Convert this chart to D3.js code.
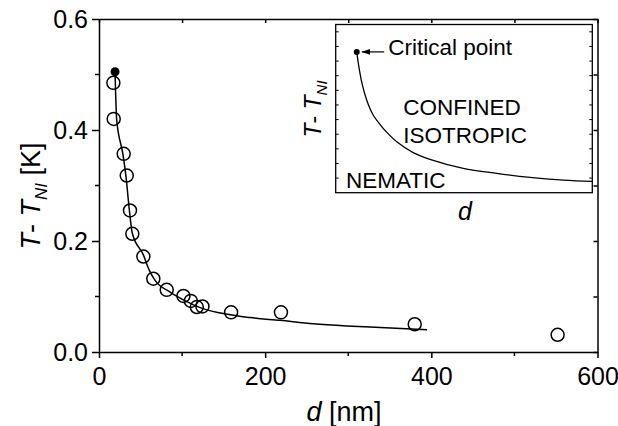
<!DOCTYPE html>
<html>
<head>
<meta charset="utf-8">
<script src="https://cdn.jsdelivr.net/npm/d3@7"></script>
<style>
  body { margin: 0; background: #fff; }
  svg { font-family: "Liberation Sans", Arial, Helvetica, sans-serif; }
  .axis path, .axis line { stroke: #000; stroke-width: 1.5; }
  .axis text { font-size: 25px; fill: #000; }
</style>
</head>
<body>
<div id="chart"></div>
<script>
// measured points (d in nm, T - T_NI in K)
var sizeD = [17.3, 17.7, 29.7, 33.4, 37.3, 40.1, 53.4, 65.4, 81.5, 101.6, 110.5, 117.7, 124.5, 159, 219, 380, 552];
var deltaT = [0.485, 0.420, 0.357, 0.318, 0.255, 0.213, 0.172, 0.132, 0.112, 0.101, 0.092, 0.081, 0.082, 0.0715, 0.0715, 0.050, 0.031];

// critical point
var critD = 19.3, critT = 0.505;

// fitted curve
var fitD = [19.3, 21.3, 28.6, 32.5, 36.5, 40.1, 53.4, 60.6, 67.5, 85.5, 101.6, 121.7, 157.8, 182, 218, 258, 298, 338.6, 394.8];
var fitT = [0.505, 0.418, 0.358, 0.316, 0.256, 0.214, 0.175, 0.147, 0.129, 0.108, 0.094, 0.080, 0.067, 0.062, 0.057, 0.051, 0.047, 0.044, 0.040];

var xTicks = [0, 200, 400, 600];
var xMinor = [100, 300, 500];
var yTicks = [0.0, 0.2, 0.4, 0.6];
var yMinor = [0.1, 0.3, 0.5];

// inset schematic curve (relative units 0..1)
var insetX = [0.082, 0.091, 0.103, 0.121, 0.145, 0.173, 0.204, 0.238, 0.302, 0.367, 0.497, 0.627, 0.757, 0.887, 1.0];
var insetY = [0.837, 0.742, 0.647, 0.550, 0.465, 0.405, 0.351, 0.303, 0.238, 0.198, 0.145, 0.115, 0.091, 0.075, 0.067];

var W = 618, H = 426;
var margin = {top: 19, left: 99},
    width = 498.5,
    height = 333;

var svg = d3.select("#chart").append("svg")
    .attr("width", W)
    .attr("height", H);

var g = svg.append("g")
    .attr("transform", "translate(" + margin.left + "," + margin.top + ")");

var x = d3.scaleLinear().domain([0, 600]).range([0, width]);
var y = d3.scaleLinear().domain([0, 0.6]).range([height, 0]);

// bottom axis
var xAxis = g.append("g")
    .attr("class", "axis")
    .attr("transform", "translate(0," + height + ")")
    .call(d3.axisBottom(x).tickValues(xTicks).tickSize(6).tickSizeOuter(0).tickPadding(9));
xAxis.selectAll(".tick text").attr("dy", "0.71em");
xAxis.selectAll(".minor")
    .data(xMinor).enter().append("line")
    .attr("x1", function(d) { return x(d); })
    .attr("x2", function(d) { return x(d); })
    .attr("y1", 0).attr("y2", 4)
    .attr("stroke", "#000").attr("stroke-width", 1.5);

// left axis
var yAxis = g.append("g")
    .attr("class", "axis")
    .call(d3.axisLeft(y).tickValues(yTicks).tickSize(7).tickSizeOuter(0).tickPadding(4)
      .tickFormat(d3.format(".1f")));
yAxis.selectAll(".minor")
    .data(yMinor).enter().append("line")
    .attr("y1", function(d) { return y(d); })
    .attr("y2", function(d) { return y(d); })
    .attr("x1", 0).attr("x2", -4)
    .attr("stroke", "#000").attr("stroke-width", 1.5);

// top axis, ticks inward
g.append("g")
    .attr("class", "axis")
    .call(d3.axisTop(x).tickValues(xTicks.concat(xMinor)).tickSize(-4).tickSizeOuter(0).tickFormat(""));

// right axis, ticks inward
g.append("g")
    .attr("class", "axis")
    .attr("transform", "translate(" + width + ",0)")
    .call(d3.axisRight(y).tickValues(yTicks.concat(yMinor)).tickSize(-4).tickSizeOuter(0).tickFormat(""));

// fit curve
var fitLine = d3.line()
    .x(function(d, i) { return x(fitD[i]); })
    .y(function(d) { return y(d); })
    .curve(d3.curveMonotoneX);

g.append("path")
    .datum(fitT)
    .attr("d", fitLine)
    .attr("fill", "none")
    .attr("stroke", "#000")
    .attr("stroke-width", 1.5);

// data circles
g.selectAll(".pt")
    .data(deltaT)
  .enter().append("circle")
    .attr("class", "pt")
    .attr("cx", function(d, i) { return x(sizeD[i]); })
    .attr("cy", function(d) { return y(d); })
    .attr("r", 6.5)
    .attr("fill", "none")
    .attr("stroke", "#000")
    .attr("stroke-width", 1.5);

g.append("circle")
    .attr("cx", x(critD))
    .attr("cy", y(critT))
    .attr("r", 4.5)
    .attr("fill", "#000");

// axis titles
var xt = svg.append("text")
    .attr("x", 344)
    .attr("y", 421)
    .attr("text-anchor", "middle")
    .style("font-size", "27px");
xt.append("tspan").style("font-style", "italic").text("d");
xt.append("tspan").text(" [nm]");

var yt = svg.append("text")
    .attr("transform", "translate(40,196) rotate(-90)")
    .attr("text-anchor", "middle")
    .style("font-size", "27px");
yt.append("tspan").style("font-style", "italic").text("T");
yt.append("tspan").text("- ");
yt.append("tspan").style("font-style", "italic").text("T");
yt.append("tspan").style("font-style", "italic").style("font-size", "17px").attr("dy", 7).text("NI");
yt.append("tspan").attr("dy", -7).text(" [K]");

// ---- inset ----
var inset = {left: 335.7, top: 24.5, width: 256.6, height: 168.2};
var ig = svg.append("g")
    .attr("transform", "translate(" + inset.left + "," + inset.top + ")");

var ix = d3.scaleLinear().domain([0, 1]).range([0, inset.width]);
var iy = d3.scaleLinear().domain([0, 1]).range([inset.height, 0]);

ig.append("rect")
    .attr("width", inset.width)
    .attr("height", inset.height)
    .attr("fill", "#fff")
    .attr("stroke", "#000")
    .attr("stroke-width", 1.3);

var iTicks = d3.range(1, 12).map(function(i) { return i / 11.5; });
ig.selectAll(".itl")
    .data(iTicks).enter().append("line")
    .attr("x1", 0).attr("x2", 3)
    .attr("y1", function(d) { return iy(d); })
    .attr("y2", function(d) { return iy(d); })
    .attr("stroke", "#000");
ig.selectAll(".itr")
    .data(iTicks).enter().append("line")
    .attr("x1", inset.width).attr("x2", inset.width - 3)
    .attr("y1", function(d) { return iy(d); })
    .attr("y2", function(d) { return iy(d); })
    .attr("stroke", "#000");

var insetLine = d3.line()
    .x(function(d, i) { return ix(insetX[i]); })
    .y(function(d) { return iy(d); })
    .curve(d3.curveCatmullRom.alpha(0.5));

ig.append("path")
    .datum(insetY)
    .attr("d", insetLine)
    .attr("fill", "none")
    .attr("stroke", "#000")
    .attr("stroke-width", 1.3);

ig.append("circle")
    .attr("cx", ix(insetX[0]))
    .attr("cy", iy(insetY[0]))
    .attr("r", 3)
    .attr("fill", "#000");

svg.append("defs").append("marker")
    .attr("id", "arrow")
    .attr("viewBox", "0 0 10 10")
    .attr("refX", 10).attr("refY", 5)
    .attr("markerWidth", 7).attr("markerHeight", 7)
    .attr("orient", "auto")
  .append("path")
    .attr("d", "M0,1.5 L10,5 L0,8.5 Z")
    .attr("fill", "#000");

ig.append("line")
    .attr("x1", 48.5).attr("x2", ix(insetX[0]) + 5)
    .attr("y1", iy(insetY[0])).attr("y2", iy(insetY[0]))
    .attr("stroke", "#000")
    .attr("stroke-width", 1.2)
    .attr("marker-end", "url(#arrow)");

var labelSize = "22.5px";
ig.append("text").attr("x", 52.5).attr("y", 30.5).style("font-size", labelSize).text("Critical point");
ig.append("text").attr("x", 67.6).attr("y", 90.5).style("font-size", labelSize).text("CONFINED");
ig.append("text").attr("x", 67.6).attr("y", 118.8).style("font-size", labelSize).text("ISOTROPIC");
ig.append("text").attr("x", 10.3).attr("y", 163.8).style("font-size", labelSize).text("NEMATIC");

var it = svg.append("text")
    .attr("transform", "translate(321,109) rotate(-90)")
    .attr("text-anchor", "middle")
    .style("font-size", "23px");
it.append("tspan").style("font-style", "italic").text("T");
it.append("tspan").text("- ");
it.append("tspan").style("font-style", "italic").text("T");
it.append("tspan").style("font-style", "italic").style("font-size", "15px").attr("dy", 6).text("NI");

svg.append("text")
    .attr("x", 465)
    .attr("y", 220)
    .attr("text-anchor", "middle")
    .style("font-size", "25px")
    .style("font-style", "italic")
    .text("d");
</script>
</body>
</html>
